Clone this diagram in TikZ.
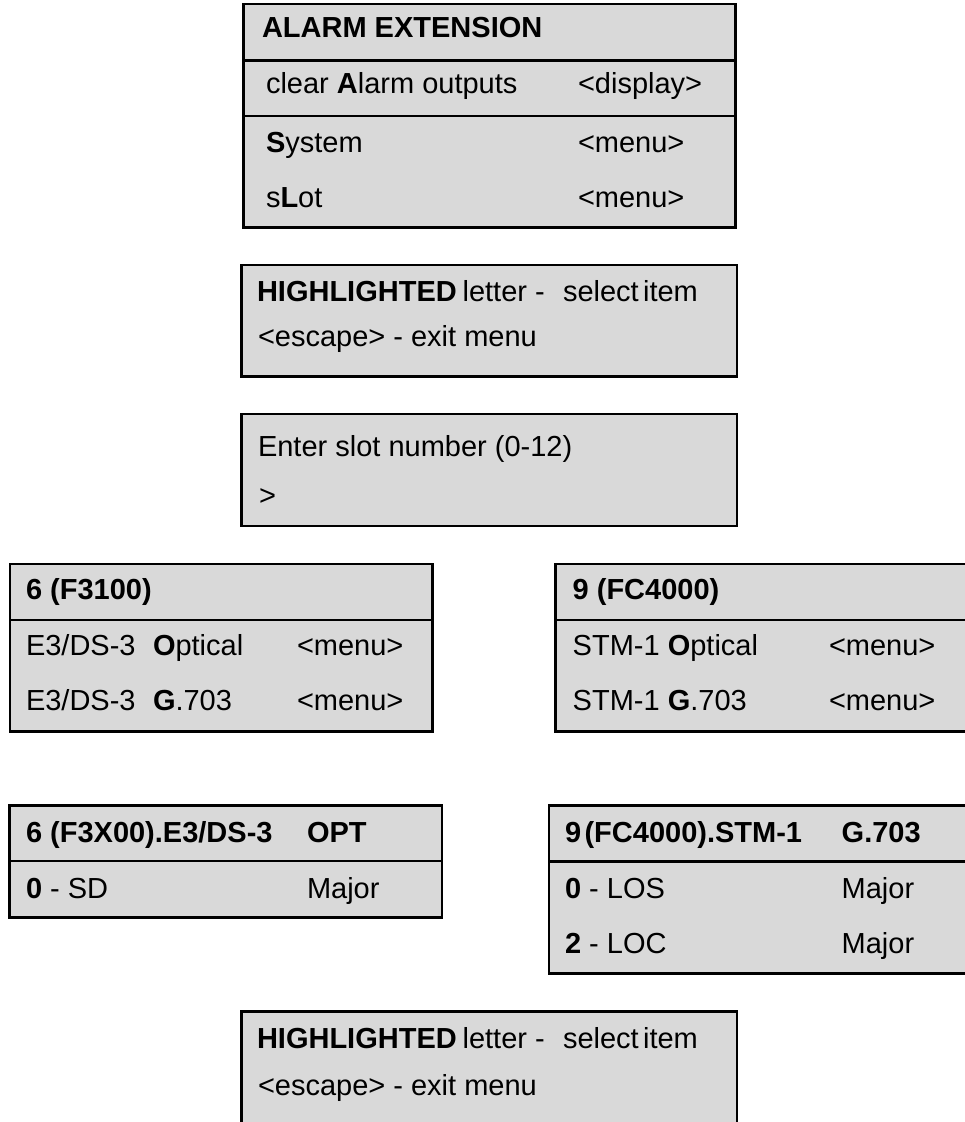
\documentclass[tikz,border=0pt]{standalone}
\usepackage{fontspec}
\setmainfont{Liberation Sans}
\definecolor{boxgray}{RGB}{217,217,217}
\tikzset{
  panel/.style={draw=black, fill=boxgray, line width=2.6pt},
  divider/.style={draw=black, line width=2.6pt},
  txt/.style={anchor=base west, inner sep=0pt, outer sep=0pt, font=\fontsize{29}{34}\selectfont}
}
\begin{document}
\begin{tikzpicture}[x=1pt,y=-1pt]
\useasboundingbox (0,0) rectangle (965,1122);
\clip (0,0) rectangle (965,1122);
% Box 1
\draw[panel] (243.5,4) rectangle (735.7,227.7);
\draw[divider] (243.5,60.7) -- (735.7,60.7);
\draw[divider] (243.5,116) -- (735.7,116);
\node[txt] (t1) at (262,37) {\textbf{ALARM EXTENSION}};
\node[txt] (a1) at (266,93) {clear \textbf{A}larm outputs};
\node[txt] (a2) at (578,93) {<display>};
\node[txt] (s1) at (266,152) {\textbf{S}ystem};
\node[txt] (s2) at (578,152) {<menu>};
\node[txt] (l1) at (266,207) {s\textbf{L}ot};
\node[txt] (l2) at (578,207) {<menu>};
% Box 2
\draw[panel] (241.7,265) rectangle (737,376.7);
\node[txt] (h1) at (257,301.7) {\textbf{HIGHLIGHTED}\hspace{0.2em}letter -};
\node[txt] (h2) at (563,301.7) {select\hspace{0.15em}item};
\node[txt] (e1) at (258,346.7) {<escape> - exit menu};
% Box 3
\draw[panel] (241.7,414) rectangle (737,526);
\node[txt] (n1) at (258,456.7) {Enter slot number (0-12)};
\node[txt] (n2) at (259,505) {>};
% Box 4
\draw[panel] (10,564) rectangle (432.7,731.7);
\draw[divider] (10,620) -- (432.7,620);
\node[txt] (f1) at (26,599) {\textbf{6 (F3100)}};
\node[txt] (f2) at (26,655) {E3/DS-3};
\node[txt] (f3) at (153,655) {\textbf{O}ptical};
\node[txt] (f4) at (297,655) {<menu>};
\node[txt] (f5) at (26,710.7) {E3/DS-3};
\node[txt] (f6) at (153,710.7) {\textbf{G}.703};
\node[txt] (f7) at (297,710.7) {<menu>};
% Box 5
\draw[panel] (555.7,564) rectangle (980,731.7);
\draw[divider] (555.7,620) -- (980,620);
\node[txt] (g1) at (572.7,599) {\textbf{9 (FC4000)}};
\node[txt] (g2) at (572.7,655) {STM-1 \textbf{O}ptical};
\node[txt] (g3) at (829,655) {<menu>};
\node[txt] (g4) at (572.7,710.7) {STM-1 \textbf{G}.703};
\node[txt] (g5) at (829,710.7) {<menu>};
% Box 6
\draw[panel] (9.3,805.7) rectangle (442,917.7);
\draw[divider] (9.3,861) -- (442,861);
\node[txt] (p1) at (26,842) {\textbf{6 (F3X00).E3/DS-3}};
\node[txt] (p2) at (307,842) {\textbf{OPT}};
\node[txt] (p3) at (26,898) {\textbf{0} - SD};
\node[txt] (p4) at (307,898) {Major};
% Box 7
\draw[panel] (549,805.7) rectangle (980,973.3);
\draw[divider] (549,861.7) -- (980,861.7);
\node[txt] (q1) at (565,842) {\textbf{9\hspace{0.12em}(FC4000).STM-1}};
\node[txt] (q2) at (841.7,842) {\textbf{G.703}};
\node[txt] (q3) at (565,898) {\textbf{0} - LOS};
\node[txt] (q4) at (841.7,898) {Major};
\node[txt] (q5) at (565,953) {\textbf{2} - LOC};
\node[txt] (q6) at (841.7,953) {Major};
% Box 8
\draw[panel] (241.7,1011.7) rectangle (737,1140);
\node[txt] (r1) at (257,1048) {\textbf{HIGHLIGHTED}\hspace{0.2em}letter -};
\node[txt] (r2) at (563,1048) {select\hspace{0.15em}item};
\node[txt] (r3) at (258,1095.7) {<escape> - exit menu};
\end{tikzpicture}
\end{document}
